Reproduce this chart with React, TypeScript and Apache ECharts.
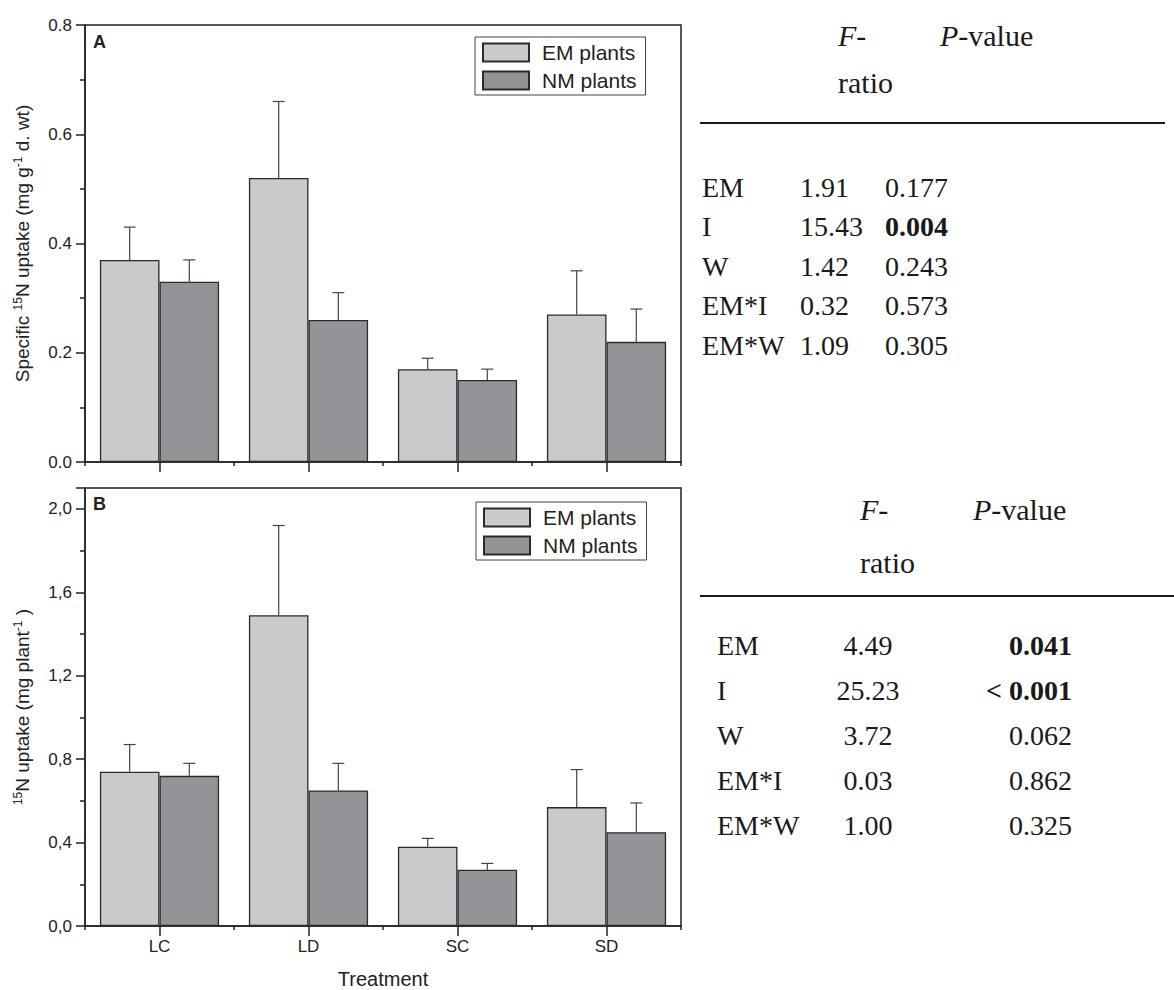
import React, { useEffect, useRef } from 'react';
import * as echarts from 'echarts';

const categories = ['LC', 'LD', 'SC', 'SD'];
const seriesNames = ['EM plants', 'NM plants'];

// Panel A: specific 15N uptake (mg g-1 d. wt)
const emA = [0.37, 0.52, 0.17, 0.27];
const emAErrTop = [0.43, 0.66, 0.19, 0.35];
const nmA = [0.33, 0.26, 0.15, 0.22];
const nmAErrTop = [0.37, 0.31, 0.17, 0.28];

// Panel B: 15N uptake (mg plant-1)
const emB = [0.74, 1.49, 0.38, 0.57];
const emBErrTop = [0.87, 1.92, 0.42, 0.75];
const nmB = [0.72, 0.65, 0.27, 0.45];
const nmBErrTop = [0.78, 0.78, 0.3, 0.59];

// ANOVA tables
const tableTerms = ['EM', 'I', 'W', 'EM*I', 'EM*W'];
const tableAF = ['1.91', '15.43', '1.42', '0.32', '1.09'];
const tableAP = ['0.177', '0.004', '0.243', '0.573', '0.305'];
const tableABold = [false, true, false, false, false];
const tableBF = ['4.49', '25.23', '3.72', '0.03', '1.00'];
const tableBP = ['0.041', '< 0.001', '0.062', '0.862', '0.325'];
const tableBBold = [true, true, false, false, false];

const SANS = '"Liberation Sans", Arial, sans-serif';
const SERIF = '"Liberation Serif", "Times New Roman", serif';
const INK = '#222';
const EM_FILL = '#c9cacc';
const NM_FILL = '#939498';
const BAR_BORDER = '#2b2b2b';
const TFONT = 28;
const HFONT = 30;

function errSeries(vals: number[], tops: number[], xi: number, yi: number, side: number) {
  return {
    type: 'custom',
    xAxisIndex: xi,
    yAxisIndex: yi,
    z: 5,
    silent: true,
    data: vals.map((v, i) => [i, v, tops[i]]),
    encode: { x: 0, y: [1, 2] },
    renderItem: (params: any, api: any) => {
      const idx = api.value(0);
      const base = api.coord([idx, api.value(1)]);
      const top = api.coord([idx, api.value(2)]);
      const band = api.size([1, 0])[0];
      const bw = (band * 0.8) / 2;
      const cx = base[0] + (side * bw) / 2;
      const st = { stroke: '#444', lineWidth: 1.2 };
      return {
        type: 'group',
        children: [
          { type: 'line', shape: { x1: cx, y1: base[1], x2: cx, y2: top[1] }, style: st },
          { type: 'line', shape: { x1: cx - 6, y1: top[1], x2: cx + 6, y2: top[1] }, style: st },
        ],
      };
    },
  };
}

function barSeries(name: string, vals: number[], xi: number, yi: number, fill: string) {
  return {
    type: 'bar',
    name,
    xAxisIndex: xi,
    yAxisIndex: yi,
    data: vals,
    barCategoryGap: '20%',
    barGap: '0%',
    itemStyle: { color: fill, borderColor: BAR_BORDER, borderWidth: 1.3 },
    z: 3,
  };
}

function mainX(gridIndex: number, showLabels: boolean) {
  return {
    type: 'category',
    gridIndex,
    data: categories,
    boundaryGap: true,
    axisLine: { show: true, lineStyle: { color: INK, width: 1.5 } },
    axisTick: { show: true, alignWithLabel: true, length: 10, lineStyle: { color: INK, width: 1.5 } },
    axisLabel: { show: showLabels, fontSize: 17, color: INK, margin: 12, fontFamily: SANS },
    splitLine: { show: false },
    ...(showLabels
      ? {
          name: 'Treatment',
          nameLocation: 'middle',
          nameGap: 43,
          nameTextStyle: { fontSize: 20, color: INK, fontFamily: SANS },
        }
      : {}),
  };
}

function minorX(gridIndex: number) {
  return {
    type: 'category',
    gridIndex,
    data: categories,
    boundaryGap: true,
    position: 'bottom',
    axisLine: { show: false },
    axisTick: { show: true, alignWithLabel: false, length: 4, lineStyle: { color: INK, width: 1.5 } },
    axisLabel: { show: false },
    splitLine: { show: false },
  };
}

function yAxis(gridIndex: number, max: number, interval: number, comma: boolean, nameRich: string) {
  const rem = max / interval - Math.round(max / interval);
  return {
    type: 'value',
    gridIndex,
    min: 0,
    max,
    interval,
    axisLine: { show: true, lineStyle: { color: INK, width: 1.5 } },
    axisTick: { show: true, inside: false, length: 9, lineStyle: { color: INK, width: 1.5 } },
    minorTick: { show: true, splitNumber: 2, length: 5, lineStyle: { color: INK, width: 1.5 } },
    splitLine: { show: false },
    axisLabel: {
      fontSize: 17,
      color: INK,
      margin: 13,
      fontFamily: SANS,
      showMaxLabel: Math.abs(rem) < 1e-6,
      formatter: (v: number) => {
        const s = v.toFixed(1);
        return comma ? s.replace('.', ',') : s;
      },
    },
    name: nameRich,
    nameLocation: 'middle',
    nameGap: 52,
    nameTextStyle: {
      color: INK,
      fontFamily: SANS,
      rich: {
        n: { fontSize: 19, color: INK, fontFamily: SANS, lineHeight: 21 },
        s: { fontSize: 12, color: INK, fontFamily: SANS, verticalAlign: 'top', lineHeight: 12 },
      },
    },
  };
}

function tableGraphics(
  headerFX: number,
  headerPX: number,
  headerY: number,
  ratioY: number,
  lineY: number,
  lineX2: number,
  rowY0: number,
  rowStep: number,
  labelX: number,
  fVals: string[],
  pVals: string[],
  bold: boolean[],
  fX: number,
  fAlign: string,
  pX: number,
  pAlign: string
) {
  const base = { fontSize: TFONT, fontFamily: SERIF, fill: '#1a1a1a', verticalAlign: 'middle' };
  const head = { ...base, fontSize: HFONT };
  const ital = { i: { fontStyle: 'italic', fontSize: HFONT, fontFamily: SERIF, fill: '#1a1a1a' } };
  const els: any[] = [];
  els.push({ type: 'text', x: headerFX, y: headerY, style: { ...head, text: '{i|F}-', align: 'left', rich: ital } });
  els.push({ type: 'text', x: headerPX, y: headerY, style: { ...head, text: '{i|P}-value', align: 'left', rich: ital } });
  els.push({ type: 'text', x: headerFX, y: ratioY, style: { ...head, text: 'ratio', align: 'left' } });
  els.push({
    type: 'line',
    shape: { x1: 700, y1: lineY, x2: lineX2, y2: lineY },
    style: { stroke: '#1a1a1a', lineWidth: 2.2 },
  });
  tableTerms.forEach((t, i) => {
    const y = rowY0 + i * rowStep;
    els.push({ type: 'text', x: labelX, y, style: { ...base, text: t, align: 'left' } });
    els.push({ type: 'text', x: fX, y, style: { ...base, text: fVals[i], align: fAlign } });
    els.push({
      type: 'text',
      x: pX,
      y,
      style: { ...base, text: pVals[i], align: pAlign, fontWeight: bold[i] ? 'bold' : 'normal' },
    });
  });
  return els;
}

export default function App() {
  const ref = useRef<HTMLDivElement>(null);
  useEffect(() => {
    if (!ref.current) return;
    const chart = echarts.init(ref.current, undefined, { renderer: 'svg' });
    const legendCommon = {
      orient: 'vertical',
      data: seriesNames,
      icon: 'rect',
      itemWidth: 46,
      itemHeight: 18,
      itemGap: 7,
      borderColor: '#444',
      borderWidth: 1,
      padding: [5, 9, 4, 7],
      backgroundColor: '#fff',
      selectedMode: false,
      textStyle: { fontSize: 21, color: INK, fontFamily: SANS, lineHeight: 20, padding: [0, 0, 0, 8] },
    };
    const option: any = {
      animation: false,
      backgroundColor: '#fff',
      textStyle: { fontFamily: SANS },
      grid: [
        { left: 85, top: 25, width: 596, height: 437, show: true, borderColor: INK, borderWidth: 1.5, backgroundColor: 'transparent' },
        { left: 85, top: 488, width: 596, height: 438, show: true, borderColor: INK, borderWidth: 1.5, backgroundColor: 'transparent' },
      ],
      legend: [
        { ...legendCommon, left: 475, top: 37 },
        { ...legendCommon, left: 476, top: 502 },
      ],
      xAxis: [mainX(0, false), minorX(0), mainX(1, true), minorX(1)],
      yAxis: [
        yAxis(0, 0.8, 0.2, false, '{n|Specific }{s|15}{n|N uptake (mg g}{s|-1}{n| d. wt)}'),
        yAxis(1, 2.1, 0.4, true, '{s|15}{n|N uptake (mg plant}{s|-1}{n| )}'),
      ],
      series: [
        barSeries(seriesNames[0], emA, 0, 0, EM_FILL),
        barSeries(seriesNames[1], nmA, 0, 0, NM_FILL),
        errSeries(emA, emAErrTop, 0, 0, -1),
        errSeries(nmA, nmAErrTop, 0, 0, 1),
        barSeries(seriesNames[0], emB, 2, 1, EM_FILL),
        barSeries(seriesNames[1], nmB, 2, 1, NM_FILL),
        errSeries(emB, emBErrTop, 2, 1, -1),
        errSeries(nmB, nmBErrTop, 2, 1, 1),
      ],
      graphic: [
        { type: 'text', x: 93, y: 33, style: { text: 'A', fontSize: 18, fontWeight: 'bold', fontFamily: SANS, fill: INK } },
        { type: 'text', x: 93, y: 495, style: { text: 'B', fontSize: 18, fontWeight: 'bold', fontFamily: SANS, fill: INK } },
        ...tableGraphics(838, 940, 35, 82, 123, 1165, 187, 39.5, 702, tableAF, tableAP, tableABold, 800, 'left', 885, 'left'),
        ...tableGraphics(860, 973, 509, 562, 596, 1174, 645, 45, 717, tableBF, tableBP, tableBBold, 868, 'center', 1072, 'right'),
      ],
    };
    chart.setOption(option);
    return () => chart.dispose();
  }, []);
  return (
    <div
      ref={ref}
      style={{ position: 'absolute', left: 0, top: 0, width: 1174, height: 990, background: '#fff' }}
    />
  );
}
